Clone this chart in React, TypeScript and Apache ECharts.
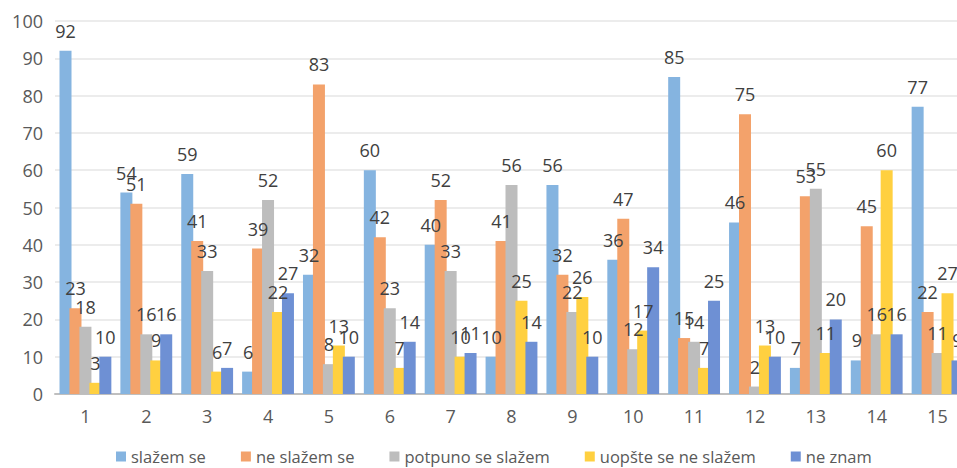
import React, { useEffect, useRef } from "react";
import * as echarts from "echarts";

const categories = ["1", "2", "3", "4", "5", "6", "7", "8", "9", "10", "11", "12", "13", "14", "15"];
const seriesNames = ["slažem se", "ne slažem se", "potpuno se slažem", "uopšte se ne slažem", "ne znam"];
const slazemSe = [92, 54, 59, 6, 32, 60, 40, 10, 56, 36, 85, 46, 7, 9, 77];
const neSlazemSe = [23, 51, 41, 39, 83, 42, 52, 41, 32, 47, 15, 75, 53, 45, 22];
const potpunoSeSlazem = [18, 16, 33, 52, 8, 23, 33, 56, 22, 12, 14, 2, 55, 16, 11];
const uopsteSeNeSlazem = [3, 9, 6, 22, 13, 7, 10, 25, 26, 17, 7, 13, 11, 60, 27];
const neZnam = [10, 16, 7, 27, 10, 14, 11, 14, 10, 34, 25, 10, 20, 16, 9];
const colors = ["#85B4E0", "#F3A26B", "#BDBDBD", "#FFD040", "#6E90D4"];

export default function App() {
  const ref = useRef<HTMLDivElement>(null);
  useEffect(() => {
    if (!ref.current) return;
    const chart = echarts.init(ref.current, null, { renderer: "svg" });
    const font = "Open Sans";
    const data = [slazemSe, neSlazemSe, potpunoSeSlazem, uopsteSeNeSlazem, neZnam];
    chart.setOption({
      animation: false,
      textStyle: { fontFamily: font },
      grid: { left: 55, top: 21, width: 913, height: 373, containLabel: false },
      legend: {
        top: 448,
        left: 116,
        padding: 0,
        icon: "rect",
        itemWidth: 10,
        itemHeight: 10,
        itemGap: 35,
        textStyle: { fontSize: 16.5, color: "#595959", fontFamily: font },
        data: seriesNames,
      },
      xAxis: {
        type: "category",
        data: categories,
        axisLine: { lineStyle: { color: "#BFBFBF", width: 2 } },
        axisTick: { show: false },
        axisLabel: { fontSize: 18, color: "#595959", margin: 13, fontFamily: font },
      },
      yAxis: {
        type: "value",
        min: 0,
        max: 100,
        interval: 10,
        axisLine: { show: false },
        axisTick: { show: false },
        axisLabel: { fontSize: 18, color: "#595959", margin: 12, fontFamily: font },
        splitLine: { lineStyle: { color: "#E6E6E6", width: 1.5 } },
      },
      series: seriesNames.map((name, i) => ({
        name,
        type: "bar",
        data: data[i],
        barWidth: 12,
        barGap: "-17%",
        itemStyle: { color: colors[i] },
        label: {
          show: true,
          position: "top",
          distance: 11,
          fontSize: 18,
          color: "#404040",
          fontFamily: font,
        },
      })),
    });
    return () => chart.dispose();
  }, []);
  return (
    <div
      ref={ref}
      style={{ position: "fixed", left: 0, top: 0, width: 972, height: 468, background: "#fff" }}
    />
  );
}
